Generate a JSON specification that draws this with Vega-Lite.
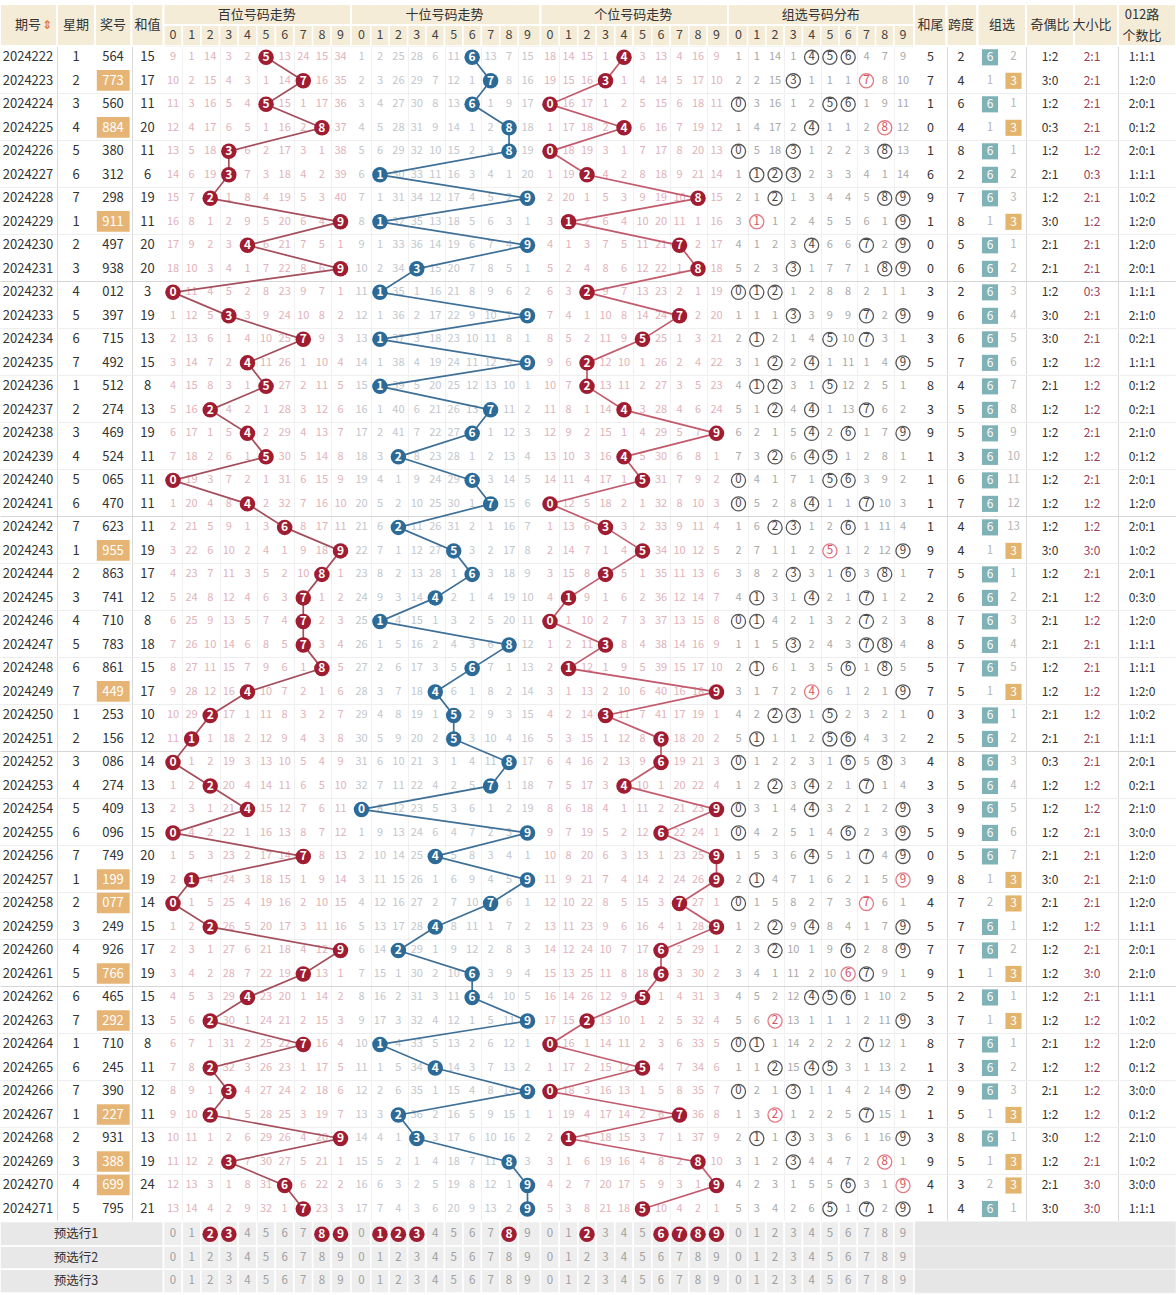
{
"$schema":"https://vega.github.io/schema/vega-lite/v6.json",
"width":1176,"height":1295,"autosize":"none","padding":0,"background":"#ffffff",
"config":{"view":{"stroke":null},"font":"Noto Sans CJK SC"},
"datasets":{
"rows":[
{"r":0,"p":"2024222","w":1,"n":"564","s":15,"hw":5,"kd":2,"z":6,"o":2,"jo":"1:2","dx":"2:1","lu":"1:1:1","v":[9,1,14,3,2,0,13,24,15,34,1,2,25,28,6,11,0,13,7,15,18,14,15,1,0,3,13,4,16,9,1,1,14,1,0,0,0,4,7,9]},
{"r":1,"p":"2024223","w":2,"n":"773","s":17,"hw":7,"kd":4,"z":3,"o":1,"jo":"3:0","dx":"2:1","lu":"1:2:0","v":[10,2,15,4,3,1,14,0,16,35,2,3,26,29,7,12,1,0,8,16,19,15,16,0,1,4,14,5,17,10,2,2,15,0,1,1,1,-1,8,10]},
{"r":2,"p":"2024224","w":3,"n":"560","s":11,"hw":1,"kd":6,"z":6,"o":1,"jo":"1:2","dx":"2:1","lu":"2:0:1","v":[11,3,16,5,4,0,15,1,17,36,3,4,27,30,8,13,0,1,9,17,0,16,17,1,2,5,15,6,18,11,0,3,16,1,2,0,0,1,9,11]},
{"r":3,"p":"2024225","w":4,"n":"884","s":20,"hw":0,"kd":4,"z":3,"o":1,"jo":"0:3","dx":"2:1","lu":"0:1:2","v":[12,4,17,6,5,1,16,2,0,37,4,5,28,31,9,14,1,2,0,18,1,17,18,2,0,6,16,7,19,12,1,4,17,2,0,1,1,2,-1,12]},
{"r":4,"p":"2024226","w":5,"n":"380","s":11,"hw":1,"kd":8,"z":6,"o":1,"jo":"1:2","dx":"1:2","lu":"2:0:1","v":[13,5,18,0,6,2,17,3,1,38,5,6,29,32,10,15,2,3,0,19,0,18,19,3,1,7,17,8,20,13,0,5,18,0,1,2,2,3,0,13]},
{"r":5,"p":"2024227","w":6,"n":"312","s":6,"hw":6,"kd":2,"z":6,"o":2,"jo":"2:1","dx":"0:3","lu":"1:1:1","v":[14,6,19,0,7,3,18,4,2,39,6,0,30,33,11,16,3,4,1,20,1,19,0,4,2,8,18,9,21,14,1,0,0,0,2,3,3,4,1,14]},
{"r":6,"p":"2024228","w":7,"n":"298","s":19,"hw":9,"kd":7,"z":6,"o":3,"jo":"1:2","dx":"2:1","lu":"1:0:2","v":[15,7,0,1,8,4,19,5,3,40,7,1,31,34,12,17,4,5,2,0,2,20,1,5,3,9,19,10,0,15,2,1,0,1,3,4,4,5,0,0]},
{"r":7,"p":"2024229","w":1,"n":"911","s":11,"hw":1,"kd":8,"z":3,"o":1,"jo":"3:0","dx":"1:2","lu":"1:2:0","v":[16,8,1,2,9,5,20,6,4,0,8,0,32,35,13,18,5,6,3,1,3,0,2,6,4,10,20,11,1,16,3,-1,1,2,4,5,5,6,1,0]},
{"r":8,"p":"2024230","w":2,"n":"497","s":20,"hw":0,"kd":5,"z":6,"o":1,"jo":"2:1","dx":"2:1","lu":"1:2:0","v":[17,9,2,3,0,6,21,7,5,1,9,1,33,36,14,19,6,7,4,0,4,1,3,7,5,11,21,0,2,17,4,1,2,3,0,6,6,0,2,0]},
{"r":9,"p":"2024231","w":3,"n":"938","s":20,"hw":0,"kd":6,"z":6,"o":2,"jo":"2:1","dx":"2:1","lu":"2:0:1","v":[18,10,3,4,1,7,22,8,6,0,10,2,34,0,15,20,7,8,5,1,5,2,4,8,6,12,22,1,0,18,5,2,3,0,1,7,7,1,0,0]},
{"r":10,"p":"2024232","w":4,"n":"012","s":3,"hw":3,"kd":2,"z":6,"o":3,"jo":"1:2","dx":"0:3","lu":"1:1:1","v":[0,11,4,5,2,8,23,9,7,1,11,0,35,1,16,21,8,9,6,2,6,3,0,9,7,13,23,2,1,19,0,0,0,1,2,8,8,2,1,1]},
{"r":11,"p":"2024233","w":5,"n":"397","s":19,"hw":9,"kd":6,"z":6,"o":4,"jo":"3:0","dx":"2:1","lu":"2:1:0","v":[1,12,5,0,3,9,24,10,8,2,12,1,36,2,17,22,9,10,7,0,7,4,1,10,8,14,24,0,2,20,1,1,1,0,3,9,9,0,2,0]},
{"r":12,"p":"2024234","w":6,"n":"715","s":13,"hw":3,"kd":6,"z":6,"o":5,"jo":"3:0","dx":"2:1","lu":"0:2:1","v":[2,13,6,1,4,10,25,0,9,3,13,0,37,3,18,23,10,11,8,1,8,5,2,11,9,0,25,1,3,21,2,0,2,1,4,0,10,0,3,1]},
{"r":13,"p":"2024235","w":7,"n":"492","s":15,"hw":5,"kd":7,"z":6,"o":6,"jo":"1:2","dx":"1:2","lu":"1:1:1","v":[3,14,7,2,0,11,26,1,10,4,14,1,38,4,19,24,11,12,9,0,9,6,0,12,10,1,26,2,4,22,3,1,0,2,0,1,11,1,4,0]},
{"r":14,"p":"2024236","w":1,"n":"512","s":8,"hw":8,"kd":4,"z":6,"o":7,"jo":"2:1","dx":"1:2","lu":"0:1:2","v":[4,15,8,3,1,0,27,2,11,5,15,0,39,5,20,25,12,13,10,1,10,7,0,13,11,2,27,3,5,23,4,0,0,3,1,0,12,2,5,1]},
{"r":15,"p":"2024237","w":2,"n":"274","s":13,"hw":3,"kd":5,"z":6,"o":8,"jo":"1:2","dx":"1:2","lu":"0:2:1","v":[5,16,0,4,2,1,28,3,12,6,16,1,40,6,21,26,13,0,11,2,11,8,1,14,0,3,28,4,6,24,5,1,0,4,0,1,13,0,6,2]},
{"r":16,"p":"2024238","w":3,"n":"469","s":19,"hw":9,"kd":5,"z":6,"o":9,"jo":"1:2","dx":"2:1","lu":"2:1:0","v":[6,17,1,5,0,2,29,4,13,7,17,2,41,7,22,27,0,1,12,3,12,9,2,15,1,4,29,5,7,0,6,2,1,5,0,2,0,1,7,0]},
{"r":17,"p":"2024239","w":4,"n":"524","s":11,"hw":1,"kd":3,"z":6,"o":10,"jo":"1:2","dx":"1:2","lu":"0:1:2","v":[7,18,2,6,1,0,30,5,14,8,18,3,0,8,23,28,1,2,13,4,13,10,3,16,0,5,30,6,8,1,7,3,0,6,0,0,1,2,8,1]},
{"r":18,"p":"2024240","w":5,"n":"065","s":11,"hw":1,"kd":6,"z":6,"o":11,"jo":"1:2","dx":"2:1","lu":"2:0:1","v":[0,19,3,7,2,1,31,6,15,9,19,4,1,9,24,29,0,3,14,5,14,11,4,17,1,0,31,7,9,2,0,4,1,7,1,0,0,3,9,2]},
{"r":19,"p":"2024241","w":6,"n":"470","s":11,"hw":1,"kd":7,"z":6,"o":12,"jo":"1:2","dx":"1:2","lu":"1:2:0","v":[1,20,4,8,0,2,32,7,16,10,20,5,2,10,25,30,1,0,15,6,0,12,5,18,2,1,32,8,10,3,0,5,2,8,0,1,1,0,10,3]},
{"r":20,"p":"2024242","w":7,"n":"623","s":11,"hw":1,"kd":4,"z":6,"o":13,"jo":"1:2","dx":"1:2","lu":"2:0:1","v":[2,21,5,9,1,3,0,8,17,11,21,6,0,11,26,31,2,1,16,7,1,13,6,0,3,2,33,9,11,4,1,6,0,0,1,2,0,1,11,4]},
{"r":21,"p":"2024243","w":1,"n":"955","s":19,"hw":9,"kd":4,"z":3,"o":1,"jo":"3:0","dx":"3:0","lu":"1:0:2","v":[3,22,6,10,2,4,1,9,18,0,22,7,1,12,27,0,3,2,17,8,2,14,7,1,4,0,34,10,12,5,2,7,1,1,2,-1,1,2,12,0]},
{"r":22,"p":"2024244","w":2,"n":"863","s":17,"hw":7,"kd":5,"z":6,"o":1,"jo":"1:2","dx":"2:1","lu":"2:0:1","v":[4,23,7,11,3,5,2,10,0,1,23,8,2,13,28,1,0,3,18,9,3,15,8,0,5,1,35,11,13,6,3,8,2,0,3,1,0,3,0,1]},
{"r":23,"p":"2024245","w":3,"n":"741","s":12,"hw":2,"kd":6,"z":6,"o":2,"jo":"2:1","dx":"1:2","lu":"0:3:0","v":[5,24,8,12,4,6,3,0,1,2,24,9,3,14,0,2,1,4,19,10,4,0,9,1,6,2,36,12,14,7,4,0,3,1,0,2,1,0,1,2]},
{"r":24,"p":"2024246","w":4,"n":"710","s":8,"hw":8,"kd":7,"z":6,"o":3,"jo":"2:1","dx":"1:2","lu":"1:2:0","v":[6,25,9,13,5,7,4,0,2,3,25,0,4,15,1,3,2,5,20,11,0,1,10,2,7,3,37,13,15,8,0,0,4,2,1,3,2,0,2,3]},
{"r":25,"p":"2024247","w":5,"n":"783","s":18,"hw":8,"kd":5,"z":6,"o":4,"jo":"2:1","dx":"2:1","lu":"1:1:1","v":[7,26,10,14,6,8,5,0,3,4,26,1,5,16,2,4,3,6,0,12,1,2,11,0,8,4,38,14,16,9,1,1,5,0,2,4,3,0,0,4]},
{"r":26,"p":"2024248","w":6,"n":"861","s":15,"hw":5,"kd":7,"z":6,"o":5,"jo":"1:2","dx":"2:1","lu":"1:1:1","v":[8,27,11,15,7,9,6,1,0,5,27,2,6,17,3,5,0,7,1,13,2,0,12,1,9,5,39,15,17,10,2,0,6,1,3,5,0,1,0,5]},
{"r":27,"p":"2024249","w":7,"n":"449","s":17,"hw":7,"kd":5,"z":3,"o":1,"jo":"1:2","dx":"1:2","lu":"1:2:0","v":[9,28,12,16,0,10,7,2,1,6,28,3,7,18,0,6,1,8,2,14,3,1,13,2,10,6,40,16,18,0,3,1,7,2,-1,6,1,2,1,0]},
{"r":28,"p":"2024250","w":1,"n":"253","s":10,"hw":0,"kd":3,"z":6,"o":1,"jo":"2:1","dx":"1:2","lu":"1:0:2","v":[10,29,0,17,1,11,8,3,2,7,29,4,8,19,1,0,2,9,3,15,4,2,14,0,11,7,41,17,19,1,4,2,0,0,1,0,2,3,2,1]},
{"r":29,"p":"2024251","w":2,"n":"156","s":12,"hw":2,"kd":5,"z":6,"o":2,"jo":"2:1","dx":"2:1","lu":"1:1:1","v":[11,0,1,18,2,12,9,4,3,8,30,5,9,20,2,0,3,10,4,16,5,3,15,1,12,8,0,18,20,2,5,0,1,1,2,0,0,4,3,2]},
{"r":30,"p":"2024252","w":3,"n":"086","s":14,"hw":4,"kd":8,"z":6,"o":3,"jo":"0:3","dx":"2:1","lu":"2:0:1","v":[0,1,2,19,3,13,10,5,4,9,31,6,10,21,3,1,4,11,0,17,6,4,16,2,13,9,0,19,21,3,0,1,2,2,3,1,0,5,0,3]},
{"r":31,"p":"2024253","w":4,"n":"274","s":13,"hw":3,"kd":5,"z":6,"o":4,"jo":"1:2","dx":"1:2","lu":"0:2:1","v":[1,2,0,20,4,14,11,6,5,10,32,7,11,22,4,2,5,0,1,18,7,5,17,3,0,10,1,20,22,4,1,2,0,3,0,2,1,0,1,4]},
{"r":32,"p":"2024254","w":5,"n":"409","s":13,"hw":3,"kd":9,"z":6,"o":5,"jo":"1:2","dx":"1:2","lu":"2:1:0","v":[2,3,1,21,0,15,12,7,6,11,0,8,12,23,5,3,6,1,2,19,8,6,18,4,1,11,2,21,23,0,0,3,1,4,0,3,2,1,2,0]},
{"r":33,"p":"2024255","w":6,"n":"096","s":15,"hw":5,"kd":9,"z":6,"o":6,"jo":"1:2","dx":"2:1","lu":"3:0:0","v":[0,4,2,22,1,16,13,8,7,12,1,9,13,24,6,4,7,2,3,0,9,7,19,5,2,12,0,22,24,1,0,4,2,5,1,4,0,2,3,0]},
{"r":34,"p":"2024256","w":7,"n":"749","s":20,"hw":0,"kd":5,"z":6,"o":7,"jo":"2:1","dx":"2:1","lu":"1:2:0","v":[1,5,3,23,2,17,14,0,8,13,2,10,14,25,0,5,8,3,4,1,10,8,20,6,3,13,1,23,25,0,1,5,3,6,0,5,1,0,4,0]},
{"r":35,"p":"2024257","w":1,"n":"199","s":19,"hw":9,"kd":8,"z":3,"o":1,"jo":"3:0","dx":"2:1","lu":"2:1:0","v":[2,0,4,24,3,18,15,1,9,14,3,11,15,26,1,6,9,4,5,0,11,9,21,7,4,14,2,24,26,0,2,0,4,7,1,6,2,1,5,-1]},
{"r":36,"p":"2024258","w":2,"n":"077","s":14,"hw":4,"kd":7,"z":3,"o":2,"jo":"2:1","dx":"2:1","lu":"1:2:0","v":[0,1,5,25,4,19,16,2,10,15,4,12,16,27,2,7,10,0,6,1,12,10,22,8,5,15,3,0,27,1,0,1,5,8,2,7,3,-1,6,1]},
{"r":37,"p":"2024259","w":3,"n":"249","s":15,"hw":5,"kd":7,"z":6,"o":1,"jo":"1:2","dx":"1:2","lu":"1:1:1","v":[1,2,0,26,5,20,17,3,11,16,5,13,17,28,0,8,11,1,7,2,13,11,23,9,6,16,4,1,28,0,1,2,0,9,0,8,4,1,7,0]},
{"r":38,"p":"2024260","w":4,"n":"926","s":17,"hw":7,"kd":7,"z":6,"o":2,"jo":"1:2","dx":"2:1","lu":"2:0:1","v":[2,3,1,27,6,21,18,4,12,0,6,14,0,29,1,9,12,2,8,3,14,12,24,10,7,17,0,2,29,1,2,3,0,10,1,9,0,2,8,0]},
{"r":39,"p":"2024261","w":5,"n":"766","s":19,"hw":9,"kd":1,"z":3,"o":1,"jo":"1:2","dx":"3:0","lu":"2:1:0","v":[3,4,2,28,7,22,19,0,13,1,7,15,1,30,2,10,0,3,9,4,15,13,25,11,8,18,0,3,30,2,3,4,1,11,2,10,-1,0,9,1]},
{"r":40,"p":"2024262","w":6,"n":"465","s":15,"hw":5,"kd":2,"z":6,"o":1,"jo":"1:2","dx":"2:1","lu":"1:1:1","v":[4,5,3,29,0,23,20,1,14,2,8,16,2,31,3,11,0,4,10,5,16,14,26,12,9,0,1,4,31,3,4,5,2,12,0,0,0,1,10,2]},
{"r":41,"p":"2024263","w":7,"n":"292","s":13,"hw":3,"kd":7,"z":3,"o":1,"jo":"1:2","dx":"1:2","lu":"1:0:2","v":[5,6,0,30,1,24,21,2,15,3,9,17,3,32,4,12,1,5,11,0,17,15,0,13,10,1,2,5,32,4,5,6,-1,13,1,1,1,2,11,0]},
{"r":42,"p":"2024264","w":1,"n":"710","s":8,"hw":8,"kd":7,"z":6,"o":1,"jo":"2:1","dx":"1:2","lu":"1:2:0","v":[6,7,1,31,2,25,22,0,16,4,10,0,4,33,5,13,2,6,12,1,0,16,1,14,11,2,3,6,33,5,0,0,1,14,2,2,2,0,12,1]},
{"r":43,"p":"2024265","w":6,"n":"245","s":11,"hw":1,"kd":3,"z":6,"o":2,"jo":"1:2","dx":"1:2","lu":"0:1:2","v":[7,8,0,32,3,26,23,1,17,5,11,1,5,34,0,14,3,7,13,2,1,17,2,15,12,0,4,7,34,6,1,1,0,15,0,0,3,1,13,2]},
{"r":44,"p":"2024266","w":7,"n":"390","s":12,"hw":2,"kd":9,"z":6,"o":3,"jo":"2:1","dx":"1:2","lu":"3:0:0","v":[8,9,1,0,4,27,24,2,18,6,12,2,6,35,1,15,4,8,14,0,0,18,3,16,13,1,5,8,35,7,0,2,1,0,1,1,4,2,14,0]},
{"r":45,"p":"2024267","w":1,"n":"227","s":11,"hw":1,"kd":5,"z":3,"o":1,"jo":"1:2","dx":"1:2","lu":"0:1:2","v":[9,10,0,1,5,28,25,3,19,7,13,3,0,36,2,16,5,9,15,1,1,19,4,17,14,2,6,0,36,8,1,3,-1,1,2,2,5,0,15,1]},
{"r":46,"p":"2024268","w":2,"n":"931","s":13,"hw":3,"kd":8,"z":6,"o":1,"jo":"3:0","dx":"1:2","lu":"2:1:0","v":[10,11,1,2,6,29,26,4,20,0,14,4,1,0,3,17,6,10,16,2,2,0,5,18,15,3,7,1,37,9,2,0,1,0,3,3,6,1,16,0]},
{"r":47,"p":"2024269","w":3,"n":"388","s":19,"hw":9,"kd":5,"z":3,"o":1,"jo":"1:2","dx":"2:1","lu":"1:0:2","v":[11,12,2,0,7,30,27,5,21,1,15,5,2,1,4,18,7,11,0,3,3,1,6,19,16,4,8,2,0,10,3,1,2,0,4,4,7,2,-1,1]},
{"r":48,"p":"2024270","w":4,"n":"699","s":24,"hw":4,"kd":3,"z":3,"o":2,"jo":"2:1","dx":"3:0","lu":"3:0:0","v":[12,13,3,1,8,31,0,6,22,2,16,6,3,2,5,19,8,12,1,0,4,2,7,20,17,5,9,3,1,0,4,2,3,1,5,5,0,3,1,-1]},
{"r":49,"p":"2024271","w":5,"n":"795","s":21,"hw":1,"kd":4,"z":6,"o":1,"jo":"3:0","dx":"3:0","lu":"1:1:1","v":[13,14,4,2,9,32,1,0,23,3,17,7,4,3,6,20,9,13,2,0,5,3,8,21,18,0,10,4,2,1,5,3,4,2,6,0,1,0,2,0]}
],
"hdr":[
{"t":"期号","a":-3,"b":-3,"ra":-2,"rb":-1},
{"t":"星期","a":-2,"b":-2,"ra":-2,"rb":-1},
{"t":"奖号","a":-1,"b":-1,"ra":-2,"rb":-1},
{"t":"和值","a":0,"b":0,"ra":-2,"rb":-1},
{"t":"百位号码走势","a":1,"b":10,"ra":-2,"rb":-2},
{"t":"十位号码走势","a":11,"b":20,"ra":-2,"rb":-2},
{"t":"个位号码走势","a":21,"b":30,"ra":-2,"rb":-2},
{"t":"组选号码分布","a":31,"b":40,"ra":-2,"rb":-2},
{"t":"和尾","a":41,"b":41,"ra":-2,"rb":-1},
{"t":"跨度","a":42,"b":42,"ra":-2,"rb":-1},
{"t":"组选","a":43,"b":44,"ra":-2,"rb":-1},
{"t":"奇偶比","a":45,"b":45,"ra":-2,"rb":-1},
{"t":"大小比","a":46,"b":46,"ra":-2,"rb":-1},
{"t":"012路\n个数比","a":47,"b":47,"ra":-2,"rb":-1}
],
"foot":[
{"f":50,"t":"预选行1","s":[0,0,1,1,0,0,0,0,1,1,0,1,1,1,0,0,0,0,1,0,0,0,1,0,0,0,1,1,1,1,0,0,0,0,0,0,0,0,0,0]},
{"f":51,"t":"预选行2","s":[0,0,0,0,0,0,0,0,0,0,0,0,0,0,0,0,0,0,0,0,0,0,0,0,0,0,0,0,0,0,0,0,0,0,0,0,0,0,0,0]},
{"f":52,"t":"预选行3","s":[0,0,0,0,0,0,0,0,0,0,0,0,0,0,0,0,0,0,0,0,0,0,0,0,0,0,0,0,0,0,0,0,0,0,0,0,0,0,0,0]}
]
},
"layer":[
{"data":{"name":"rows"},
 "transform":[
  {"flatten":["v"]},
  {"window":[{"op":"row_number","as":"i"}],"groupby":["r"]},
  {"calculate":"(datum.i-1)%10","as":"d"},
  {"calculate":"floor((datum.i-1)/10)","as":"sec"},
  {"calculate":"datum.i-0.5","as":"xa"},
  {"calculate":"datum.i+0.5","as":"xb"}
 ],
 "layer":[
  {"transform":[{"filter":"datum.v>0"}],
   "mark":{"type":"text","fontSize":11},
   "encoding":{
    "x":{"field":"i","type":"quantitative",
     "scale":{"domain":[-3.5,-3,-2.5,-2,-1.5,-1,-0.5,0,0.5,1,10,10.5,11,20,20.5,21,30,30.5,31,40,40.5,41,41.5,42,42.5,43,43.5,44,44.5,45,45.5,46,46.5,47,47.5],
              "range":[0,28,57,76,95,113,131.5,147.5,163.5,173,340.5,351,361.5,527.5,540.5,550,716.5,728,738.5,903,914,930.5,946.5,961,977.5,990,1002,1013.5,1026,1050,1074,1092,1118,1142,1176],
              "nice":false,"zero":false},
     "axis":{"values":[-2.5,-1.5,-0.5,0.5,1.5,2.5,3.5,4.5,5.5,6.5,7.5,8.5,9.5,10.5,11.5,12.5,13.5,14.5,15.5,16.5,17.5,18.5,19.5,20.5,21.5,22.5,23.5,24.5,25.5,26.5,27.5,28.5,29.5,30.5,31.5,32.5,33.5,34.5,35.5,36.5,37.5,38.5,39.5,40.5,41.5,42.5,44.5,45.5,46.5],
             "grid":true,"labels":false,"ticks":false,"domain":false,"title":null,
             "gridColor":{"condition":{"test":"datum.value > 1 && datum.value < 40 && (datum.value + 9.5) % 10 != 0","value":"#f0f0f0"},"value":"#dadada"}}},
    "y":{"field":"r","type":"quantitative",
     "scale":{"domain":[-2.5,-2,-1.5,-1,-0.5,0,49,49.5,50,52,52.5],"range":[4,14.5,25,35,46,57.3,1209,1221.5,1234.3,1281,1293],"nice":false,"zero":false},
     "axis":{"values":[-0.5,0.5,1.5,2.5,3.5,4.5,5.5,6.5,7.5,8.5,9.5,10.5,11.5,12.5,13.5,14.5,15.5,16.5,17.5,18.5,19.5,20.5,21.5,22.5,23.5,24.5,25.5,26.5,27.5,28.5,29.5,30.5,31.5,32.5,33.5,34.5,35.5,36.5,37.5,38.5,39.5,40.5,41.5,42.5,43.5,44.5,45.5,46.5,47.5,48.5,49.5],
             "grid":true,"labels":false,"ticks":false,"domain":false,"title":null,
             "gridColor":{"condition":{"test":"(datum.value + 0.5) % 5 == 0","value":"#d6d6d6"},"value":"#eeeeee"}}},
    "text":{"field":"v","type":"nominal"},
    "color":{"condition":[{"test":"datum.sec==1","value":"#c2c7cd"},{"test":"datum.sec==3","value":"#a9a9a9"}],"value":"#e2b2ba"}
   }},
  {"transform":[{"filter":"datum.v==0 && datum.sec<3"}],
   "mark":{"type":"line","strokeWidth":1.7},
   "encoding":{
    "x":{"field":"i","type":"quantitative"},
    "y":{"field":"r","type":"quantitative"},
    "detail":{"field":"sec","type":"nominal"},
    "order":{"field":"r","type":"quantitative"},
    "stroke":{"condition":[{"test":"datum.sec==1","value":"#3d6f97"},{"test":"datum.sec==2","value":"#c25a6c"}],"value":"#a44d5b"}
   }},
  {"transform":[{"filter":"datum.v==0 && datum.sec<3"}],
   "mark":{"type":"circle","size":240,"opacity":1},
   "encoding":{
    "x":{"field":"i","type":"quantitative"},
    "y":{"field":"r","type":"quantitative"},
    "color":{"condition":{"test":"datum.sec==1","value":"#2c6a98"},"value":"#a01c30"}
   }},
  {"transform":[{"filter":"datum.v==0 && datum.sec<3"}],
   "mark":{"type":"text","fontSize":12,"fontWeight":"bold","color":"#ffffff"},
   "encoding":{
    "x":{"field":"i","type":"quantitative"},
    "y":{"field":"r","type":"quantitative"},
    "text":{"field":"d","type":"nominal"}
   }},
  {"transform":[{"filter":"datum.v<=0 && datum.sec==3"}],
   "mark":{"type":"point","shape":"circle","size":200,"filled":false,"strokeWidth":1.3,"opacity":1},
   "encoding":{
    "x":{"field":"i","type":"quantitative"},
    "y":{"field":"r","type":"quantitative"},
    "stroke":{"condition":{"test":"datum.v<0","value":"#e27a84"},"value":"#555555"}
   }},
  {"transform":[{"filter":"datum.v<=0 && datum.sec==3"}],
   "mark":{"type":"text","fontSize":11.5},
   "encoding":{
    "x":{"field":"i","type":"quantitative"},
    "y":{"field":"r","type":"quantitative"},
    "text":{"field":"d","type":"nominal"},
    "color":{"condition":{"test":"datum.v<0","value":"#d4525e"},"value":"#444444"}
   }},
  {"transform":[{"filter":"datum.r==0"}],
   "mark":{"type":"rect","fill":"#f5ecd8","stroke":"#ffffff","strokeWidth":1.5},
   "encoding":{
    "x":{"field":"xa","type":"quantitative"},"x2":{"field":"xb"},
    "y":{"datum":-1.5},"y2":{"datum":-0.5}
   }},
  {"transform":[{"filter":"datum.r==0"}],
   "mark":{"type":"text","fontSize":12.5,"color":"#444444"},
   "encoding":{
    "x":{"field":"i","type":"quantitative"},
    "y":{"datum":-1},
    "text":{"field":"d","type":"nominal"}
   }}
 ]},
{"data":{"name":"hdr"},
 "transform":[
  {"calculate":"datum.a-0.5","as":"xa"},
  {"calculate":"datum.b+0.5","as":"xb"},
  {"calculate":"datum.ra-0.5","as":"ya"},
  {"calculate":"datum.rb+0.5","as":"yb"},
  {"calculate":"(datum.a+datum.b)/2","as":"xm"},
  {"calculate":"(datum.ra+datum.rb)/2","as":"ym"}
 ],
 "layer":[
  {"mark":{"type":"rect","fill":"#f5ecd8","stroke":"#ffffff","strokeWidth":2},
   "encoding":{"x":{"field":"xa","type":"quantitative"},"x2":{"field":"xb"},"y":{"field":"ya","type":"quantitative"},"y2":{"field":"yb"}}},
  {"transform":[{"filter":"datum.a!=47"}],
   "mark":{"type":"text","fontSize":13,"color":"#333333"},
   "encoding":{"x":{"field":"xm","type":"quantitative"},"y":{"field":"ym","type":"quantitative"},"text":{"field":"t","type":"nominal"}}},
  {"transform":[{"filter":"datum.a==47"}],
   "mark":{"type":"text","fontSize":13,"color":"#333333","lineBreak":"\n","lineHeight":21,"dy":-10},
   "encoding":{"x":{"field":"xm","type":"quantitative"},"y":{"field":"ym","type":"quantitative"},"text":{"field":"t","type":"nominal"}}},
  {"transform":[{"filter":"datum.t=='期号'"}],
   "mark":{"type":"text","text":"⇕","dx":19,"fontSize":12,"font":"DejaVu Sans","color":"#e0793b","fontWeight":"bold"},
   "encoding":{"x":{"field":"xm","type":"quantitative"},"y":{"field":"ym","type":"quantitative"}}}
 ]},
{"data":{"name":"rows"},
 "transform":[
  {"calculate":"datum.r-0.46","as":"ya"},
  {"calculate":"datum.r+0.42","as":"yb"}
 ],
 "layer":[
  {"mark":{"type":"text","fontSize":13,"color":"#333333"},
   "encoding":{"x":{"datum":-3},"y":{"field":"r","type":"quantitative"},"text":{"field":"p","type":"nominal"}}},
  {"mark":{"type":"text","fontSize":13,"color":"#333333"},
   "encoding":{"x":{"datum":-2},"y":{"field":"r","type":"quantitative"},"text":{"field":"w","type":"nominal"}}},
  {"transform":[{"filter":"datum.z==3"}],
   "mark":{"type":"rect","fill":"#e6b474"},
   "encoding":{"x":{"datum":-1.45},"x2":{"datum":-0.55},"y":{"field":"ya","type":"quantitative"},"y2":{"field":"yb"}}},
  {"mark":{"type":"text","fontSize":13},
   "encoding":{"x":{"datum":-1},"y":{"field":"r","type":"quantitative"},"text":{"field":"n","type":"nominal"},
    "color":{"condition":{"test":"datum.z==3","value":"#ffffff"},"value":"#333333"}}},
  {"mark":{"type":"text","fontSize":13,"color":"#333333"},
   "encoding":{"x":{"datum":0},"y":{"field":"r","type":"quantitative"},"text":{"field":"s","type":"nominal"}}},
  {"mark":{"type":"text","fontSize":12.5,"color":"#333333"},
   "encoding":{"x":{"datum":41},"y":{"field":"r","type":"quantitative"},"text":{"field":"hw","type":"nominal"}}},
  {"mark":{"type":"text","fontSize":12.5,"color":"#333333"},
   "encoding":{"x":{"datum":42},"y":{"field":"r","type":"quantitative"},"text":{"field":"kd","type":"nominal"}}},
  {"transform":[{"filter":"datum.z==6"}],
   "mark":{"type":"square","size":260,"opacity":1,"filled":true,"color":"#7fb2b7"},
   "encoding":{"x":{"datum":43},"y":{"field":"r","type":"quantitative"}}},
  {"transform":[{"filter":"datum.z==6"}],
   "mark":{"type":"text","fontSize":12,"color":"#ffffff"},
   "encoding":{"x":{"datum":43},"y":{"field":"r","type":"quantitative"},"text":{"field":"z","type":"nominal"}}},
  {"transform":[{"filter":"datum.z==6"}],
   "mark":{"type":"text","fontSize":11.5,"color":"#b5b5b5"},
   "encoding":{"x":{"datum":44},"y":{"field":"r","type":"quantitative"},"text":{"field":"o","type":"nominal"}}},
  {"transform":[{"filter":"datum.z==3"}],
   "mark":{"type":"square","size":260,"opacity":1,"filled":true,"color":"#e3b56c"},
   "encoding":{"x":{"datum":44},"y":{"field":"r","type":"quantitative"}}},
  {"transform":[{"filter":"datum.z==3"}],
   "mark":{"type":"text","fontSize":12,"color":"#ffffff"},
   "encoding":{"x":{"datum":44},"y":{"field":"r","type":"quantitative"},"text":{"field":"z","type":"nominal"}}},
  {"transform":[{"filter":"datum.z==3"}],
   "mark":{"type":"text","fontSize":11.5,"color":"#b5b5b5"},
   "encoding":{"x":{"datum":43},"y":{"field":"r","type":"quantitative"},"text":{"field":"o","type":"nominal"}}},
  {"mark":{"type":"text","fontSize":12,"color":"#333333"},
   "encoding":{"x":{"datum":45},"y":{"field":"r","type":"quantitative"},"text":{"field":"jo","type":"nominal"}}},
  {"mark":{"type":"text","fontSize":12,"color":"#9b3f5c"},
   "encoding":{"x":{"datum":46},"y":{"field":"r","type":"quantitative"},"text":{"field":"dx","type":"nominal"}}},
  {"mark":{"type":"text","fontSize":12,"color":"#333333"},
   "encoding":{"x":{"datum":47},"y":{"field":"r","type":"quantitative"},"text":{"field":"lu","type":"nominal"}}}
 ]},
{"data":{"name":"foot"},
 "transform":[
  {"calculate":"datum.f-0.5","as":"ya"},
  {"calculate":"datum.f+0.5","as":"yb"},
  {"calculate":"-3.5","as":"la"},
  {"calculate":"0.5","as":"lb"},
  {"calculate":"40.5","as":"ra"},
  {"calculate":"47.5","as":"rb"}
 ],
 "layer":[
  {"mark":{"type":"rect","fill":"#e8e8e8","stroke":"#ffffff","strokeWidth":1.5},
   "encoding":{"x":{"field":"la","type":"quantitative"},"x2":{"field":"lb"},"y":{"field":"ya","type":"quantitative"},"y2":{"field":"yb"}}},
  {"mark":{"type":"rect","fill":"#e6e6e6","stroke":"#f2f2f2","strokeWidth":1},
   "encoding":{"x":{"field":"ra","type":"quantitative"},"x2":{"field":"rb"},"y":{"field":"ya","type":"quantitative"},"y2":{"field":"yb"}}},
  {"mark":{"type":"text","fontSize":12.5,"color":"#333333"},
   "encoding":{"x":{"datum":-2},"y":{"field":"f","type":"quantitative"},"text":{"field":"t","type":"nominal"}}},
  {"transform":[
    {"flatten":["s"]},
    {"window":[{"op":"row_number","as":"i"}],"groupby":["f"]},
    {"calculate":"(datum.i-1)%10","as":"d"},
    {"calculate":"datum.i-0.5","as":"xa"},
    {"calculate":"datum.i+0.5","as":"xb"}
   ],
   "layer":[
    {"mark":{"type":"rect","fill":"#eeeeee","stroke":"#ffffff","strokeWidth":1.5},
     "encoding":{"x":{"field":"xa","type":"quantitative"},"x2":{"field":"xb"},"y":{"field":"ya","type":"quantitative"},"y2":{"field":"yb"}}},
    {"transform":[{"filter":"datum.s==0"}],
     "mark":{"type":"text","fontSize":11.5,"color":"#a0a0a0"},
     "encoding":{"x":{"field":"i","type":"quantitative"},"y":{"field":"f","type":"quantitative"},"text":{"field":"d","type":"nominal"}}},
    {"transform":[{"filter":"datum.s==1"}],
     "mark":{"type":"circle","size":240,"opacity":1,"color":"#a01c30"},
     "encoding":{"x":{"field":"i","type":"quantitative"},"y":{"field":"f","type":"quantitative"}}},
    {"transform":[{"filter":"datum.s==1"}],
     "mark":{"type":"text","fontSize":12,"fontWeight":"bold","color":"#ffffff"},
     "encoding":{"x":{"field":"i","type":"quantitative"},"y":{"field":"f","type":"quantitative"},"text":{"field":"d","type":"nominal"}}}
   ]}
 ]}
]
}
